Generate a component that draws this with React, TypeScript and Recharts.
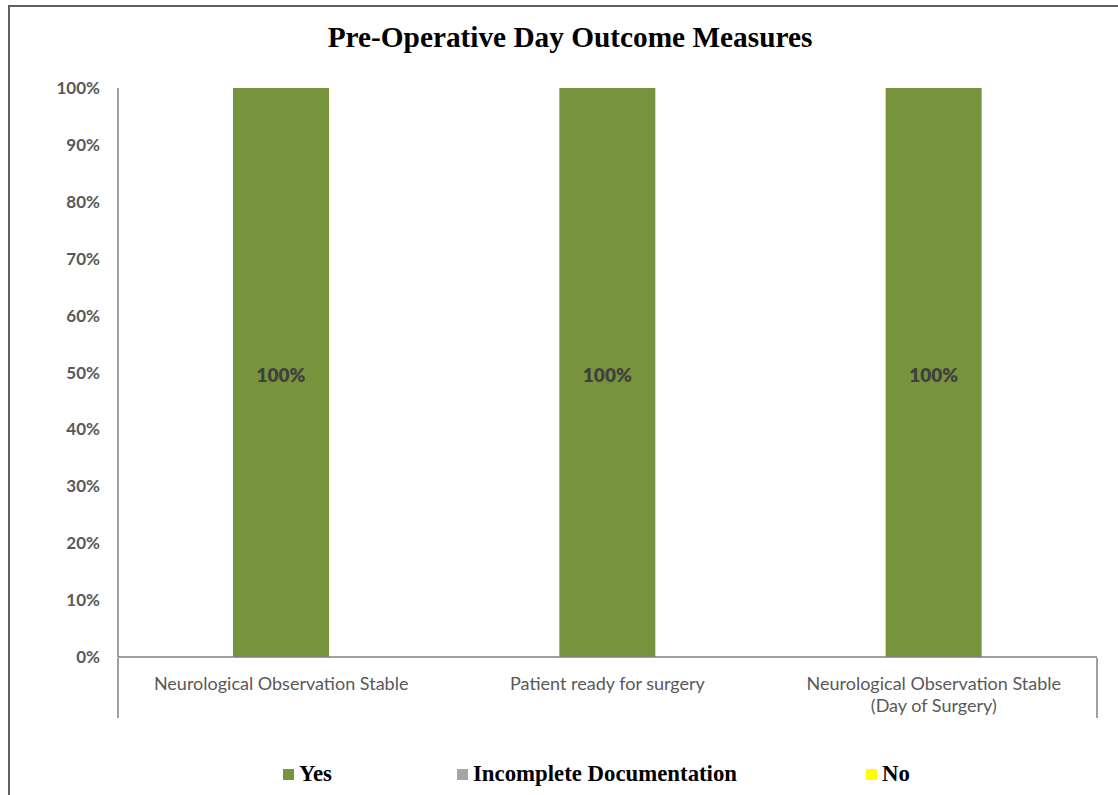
import React from "react";
import { BarChart, Bar, XAxis, YAxis, Legend, LabelList } from "recharts";

const categories = [
  "Neurological Observation Stable",
  "Patient ready for surgery",
  "Neurological Observation Stable (Day of Surgery)",
];
const yesValues = [100, 100, 100];
const incompleteValues = [0, 0, 0];
const noValues = [0, 0, 0];
const yTicks = [0, 10, 20, 30, 40, 50, 60, 70, 80, 90, 100];
const seriesNames = ["Yes", "Incomplete Documentation", "No"];
const seriesColors = ["#77933C", "#A5A5A5", "#FFFF00"];

const data = categories.map((c, i) => ({
  name: c,
  yes: yesValues[i],
  incomplete: incompleteValues[i],
  no: noValues[i],
}));

const AXIS_FONT = "Lato, 'Open Sans', sans-serif";

const CategoryTick = (props: any) => {
  const { x, y, payload, index, visibleTicksCount } = props;
  const label: string = payload.value;
  const idx = label.indexOf(" (");
  const lines = idx >= 0 ? [label.slice(0, idx), label.slice(idx + 1)] : [label];
  const band = 979 / 3;
  return (
    <g>
      {index === 0 && (
        <line x1={x - band / 2} x2={x - band / 2} y1={y - 7} y2={y + 53} stroke="#808080" strokeWidth={1.5} />
      )}
      {index === (visibleTicksCount ?? 3) - 1 && (
        <line x1={x + band / 2} x2={x + band / 2} y1={y - 7} y2={y + 53} stroke="#808080" strokeWidth={1.5} />
      )}
      <text x={x} y={y + 25} textAnchor="middle" fill="#595959" fontFamily={AXIS_FONT} fontSize={18}>
        {lines.map((l, i) => (
          <tspan key={i} x={x} dy={i === 0 ? 0 : 22}>
            {l}
          </tspan>
        ))}
      </text>
    </g>
  );
};

const LegendContent = () => {
  const offsets = [283, 457, 866];
  return (
    <div style={{ position: "relative", width: 1118, height: 30 }}>
      {seriesNames.map((n, i) => (
        <div
          key={n}
          style={{
            position: "absolute",
            left: offsets[i],
            top: 0,
            display: "flex",
            alignItems: "center",
            fontFamily: "'Liberation Serif', 'Times New Roman', serif",
            fontWeight: "bold",
            fontSize: 22.8,
            color: "#000",
            whiteSpace: "nowrap",
          }}
        >
          <span style={{ display: "inline-block", width: 11, height: 11, background: seriesColors[i], marginRight: 5 }} />
          {n}
        </div>
      ))}
    </div>
  );
};

export default function App() {
  return (
    <div style={{ position: "absolute", left: 0, top: 0, width: 1118, height: 795, overflow: "hidden", background: "#fff" }}>
      <div
        style={{
          position: "absolute",
          left: 8,
          top: 5,
          width: 1300,
          height: 1000,
          border: "2px solid #606060",
        }}
      />
      <div
        style={{
          position: "absolute",
          left: 0,
          top: 21,
          width: 1140,
          textAlign: "center",
          fontFamily: "'Liberation Serif', 'Times New Roman', serif",
          fontWeight: "bold",
          fontSize: 29.3,
          color: "#000",
        }}
      >
        Pre-Operative Day Outcome Measures
      </div>
      <div style={{ position: "absolute", left: 0, top: 0 }}>
        <BarChart
          width={1118}
          height={795}
          data={data}
          margin={{ top: 88, right: 21, bottom: 78, left: 58 }}
          barSize={96}
        >
          <XAxis
            dataKey="name"
            height={60}
            tick={<CategoryTick />}
            tickLine={false}
            axisLine={{ stroke: "#808080", strokeWidth: 1.5 }}
            interval={0}
          />
          <YAxis
            width={60}
            domain={[0, 100]}
            ticks={yTicks}
            tickFormatter={(v: number) => `${v}%`}
            tickLine={false}
            tickSize={0}
            tickMargin={18}
            axisLine={{ stroke: "#808080", strokeWidth: 1.5 }}
            tick={{ fill: "#595959", fontFamily: AXIS_FONT, fontWeight: "bold", fontSize: 17 }}
            interval={0}
          />
          <Legend
            layout="horizontal"
            verticalAlign="middle"
            align="center"
            wrapperStyle={{ top: 761, left: 0, width: 1118 }}
            content={() => <LegendContent />}
          />
          <Bar dataKey="yes" name={seriesNames[0]} stackId="a" fill={seriesColors[0]} isAnimationActive={false}>
            <LabelList
              dataKey="yes"
              position="center"
              formatter={(v: any) => `${v}%`}
              fill="#404040"
              dy={3}
              style={{ fontFamily: AXIS_FONT, fontWeight: 800, fontSize: 19 }}
            />
          </Bar>
          <Bar dataKey="incomplete" name={seriesNames[1]} stackId="a" fill={seriesColors[1]} isAnimationActive={false} />
          <Bar dataKey="no" name={seriesNames[2]} stackId="a" fill={seriesColors[2]} isAnimationActive={false} />
        </BarChart>
      </div>
    </div>
  );
}
